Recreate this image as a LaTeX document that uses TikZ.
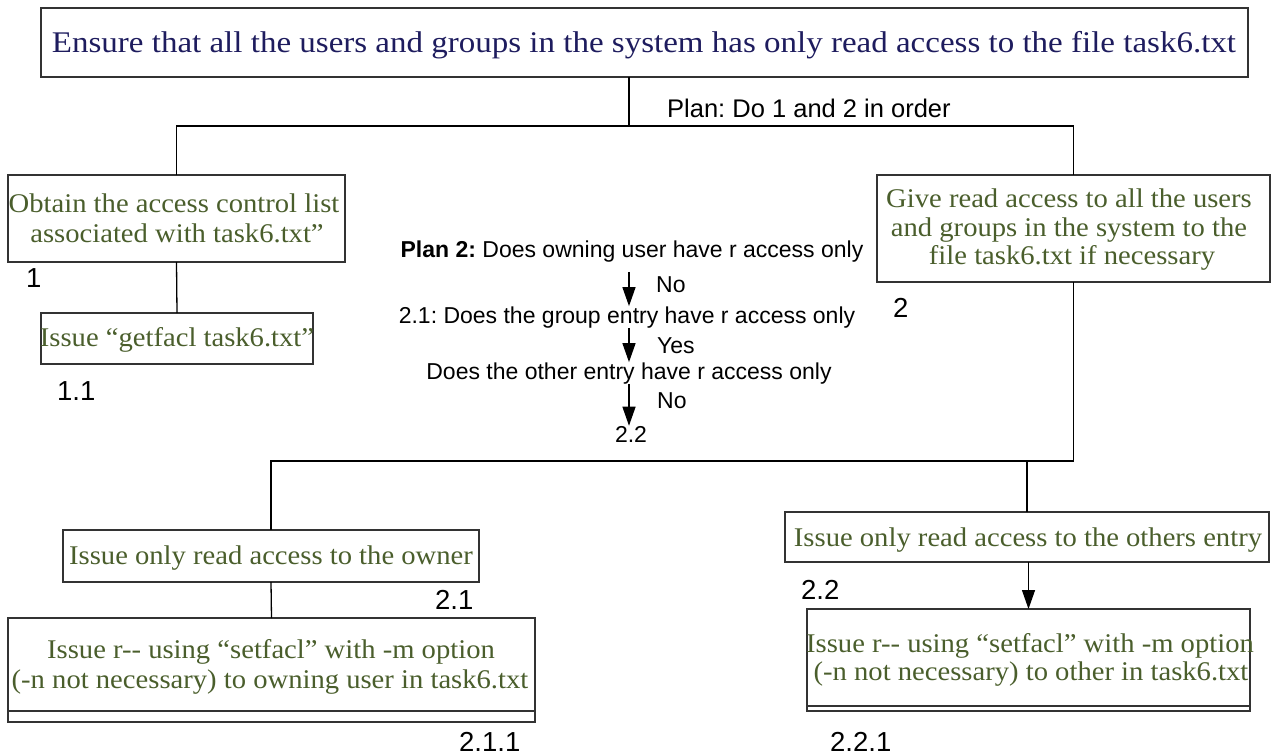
\documentclass[tikz,border=0pt]{standalone}
\usepackage{fontspec}
\setmainfont{Liberation Serif}
\setsansfont{Liberation Sans}
\newfontfamily\titlefont[FakeStretch=1.10]{Liberation Serif}
\newfontfamily\stepfont[FakeStretch=1.06]{Liberation Serif}
\usetikzlibrary{arrows.meta}
\frenchspacing

\definecolor{navytxt}{HTML}{1E1C5E}
\definecolor{olivetxt}{HTML}{4A5E2C}
\definecolor{boxline}{HTML}{333333}

\tikzset{
  taskbox/.style={draw=boxline, line width=1.4pt, inner sep=0pt, outer sep=0pt},
  titletxt/.style={font=\titlefont\fontsize{30}{34}\selectfont, text=navytxt, inner sep=0pt, anchor=base},
  greentxt/.style={font=\stepfont\fontsize{27}{30}\selectfont, text=olivetxt, inner sep=0pt, anchor=base},
  numlbl/.style={font=\sffamily\fontsize{27.5}{30}\selectfont, inner sep=0pt, anchor=base west},
  plantxt/.style={font=\sffamily\fontsize{25.5}{28}\selectfont, inner sep=0pt, anchor=base west},
  flowtxt/.style={font=\sffamily\fontsize{23}{26}\selectfont, inner sep=0pt, anchor=base},
  flowlbl/.style={font=\sffamily\fontsize{23}{26}\selectfont, inner sep=0pt, anchor=base west},
  link/.style={draw=black, line width=1.3pt},
  flowarrow/.style={link, -{Triangle[length=19pt,width=13pt]}},
}

\begin{document}
\begin{tikzpicture}[x=1pt, y=-1pt]
\useasboundingbox (0,0) rectangle (1275,755);

% ---------- boxes ----------
\node[taskbox, minimum width=1207pt, minimum height=69pt]  (top)    at (644.5,42.5) {};
\node[taskbox, minimum width=337pt,  minimum height=87pt]  (box1)   at (176.5,218.5) {};
\node[taskbox, minimum width=272pt,  minimum height=51pt]  (box11)  at (177,338.5) {};
\node[taskbox, minimum width=393pt,  minimum height=107pt] (box2)   at (1073.5,228.5) {};
\node[taskbox, minimum width=416pt,  minimum height=52pt]  (box21)  at (271,556) {};
\node[taskbox, minimum width=527pt,  minimum height=104pt] (box211) at (271.5,670) {};
\node[taskbox, minimum width=484pt,  minimum height=50pt]  (box22)  at (1027,537) {};
\node[taskbox, minimum width=443pt,  minimum height=102pt] (box221) at (1028.5,660) {};

% double bottom rule of the two leaf boxes
\draw[boxline, line width=1.4pt] ([yshift=11pt]box211.south west) -- ([yshift=11pt]box211.south east);
\draw[boxline, line width=1.4pt] ([yshift=5pt]box221.south west) -- ([yshift=5pt]box221.south east);

% ---------- box texts ----------
\node[titletxt] (toptxt) at (644,52) {Ensure that all the users and groups in the system has only read access to the file task6.txt};

\node[greentxt] (b1a) at (174,212) {Obtain the access control list};
\node[greentxt] (b1b) at (177,242) {associated with task6.txt”};

\node[greentxt] (b11a) at (177,346) {Issue “getfacl task6.txt”};

\node[greentxt] (b2a) at (1069,207) {Give read access to all the users};
\node[greentxt] (b2b) at (1069,236) {and groups in the system to the};
\node[greentxt] (b2c) at (1072,264) {file task6.txt if necessary};

\node[greentxt] (b21a) at (271,564) {Issue only read access to the owner};

\node[greentxt] (b211a) at (271,658) {Issue r-{}- using “setfacl” with -m option};
\node[greentxt] (b211b) at (270,688) {(-n not necessary) to owning user in task6.txt};

\node[greentxt] (b22a) at (1028,546) {Issue only read access to the others entry};

\node[greentxt] (b221a) at (1030,652) {Issue r-{}- using “setfacl” with -m option};
\node[greentxt] (b221b) at (1031,680) {(-n not necessary) to other in task6.txt};

% ---------- numbering ----------
\node[numlbl] (n1)   at (26,287)  {1};
\node[numlbl] (n11)  at (57,400)  {1.1};
\node[numlbl] (n2)   at (893,317) {2};
\node[numlbl] (n21)  at (435,609) {2.1};
\node[numlbl] (n211) at (459,751) {2.1.1};
\node[numlbl] (n22)  at (801,599) {2.2};
\node[numlbl] (n221) at (830,751) {2.2.1};

\node[plantxt] (plan) at (667,117) {Plan: Do 1 and 2 in order};

% ---------- tree connectors ----------
\coordinate (j0) at (629,126);
\coordinate (j1) at (1073,461);
\draw[link] (top.south -| j0) -- (j0);
\draw[link] (box1.north) |- (j0) -| (box2.north);
\draw[link] (box1.south) -- (box11.north);
\draw[link] (box2.south) |- (j1) -| (box21.north);
\draw[link] (box22.north |- j1) -- (box22.north);
\draw[link] (box21.south) -- (box211.north);
\draw[flowarrow] (box221.north |- box22.south) -- (box221.north);

% ---------- plan 2 flow ----------
\node[flowtxt] (q1) at (632,257) {\textbf{Plan 2:} Does owning user have r access only};
\node[flowtxt] (q2) at (627,323) {2.1: Does the group entry have r access only};
\node[flowtxt] (q3) at (629,379) {Does the other entry have r access only};
\node[flowtxt] (q4) at (631,442) {2.2};
\node[flowlbl] (a1) at (656,292) {No};
\node[flowlbl] (a2) at (657,353) {Yes};
\node[flowlbl] (a3) at (657,408) {No};

\coordinate (ax) at (629,0);
\draw[flowarrow] ([yshift=-10pt]q1.south -| ax) -- (q2.north -| ax);
\draw[flowarrow] (q2.south -| ax) -- (q3.north -| ax);
\draw[flowarrow] (q3.south -| ax) -- (q4.north -| ax);
\end{tikzpicture}
\end{document}
